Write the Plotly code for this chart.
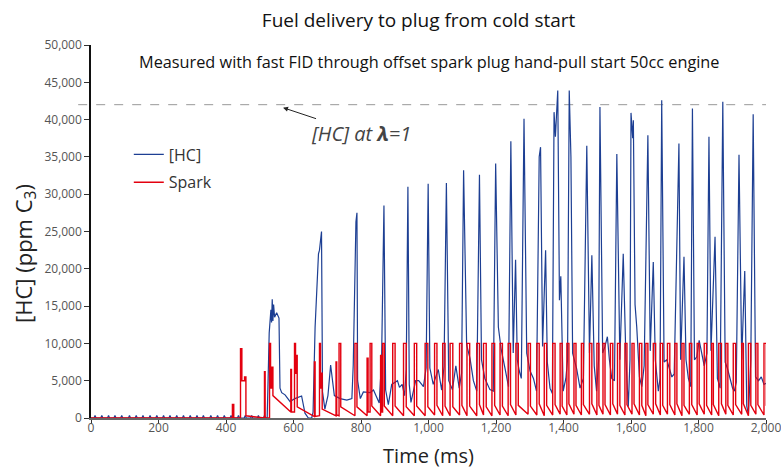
import plotly.graph_objects as go

# [HC] trace (time in ms, ppm C3)
hc_time = [0, 522, 528, 533, 535, 537, 539, 541, 544, 550, 557, 560, 565, 575, 590, 604, 624, 634, 644, 654,
           658, 664, 674, 677, 683, 686, 693, 702, 710, 715, 721, 738, 758, 773, 777, 785, 788, 790, 798, 807,
           827, 837, 846, 854, 861, 868, 873, 881, 891, 908, 914, 922, 929, 934, 939, 943, 948, 962, 971, 985,
           993, 999, 1004, 1014, 1029, 1039, 1046, 1053, 1060, 1071, 1081, 1091, 1098, 1104, 1113, 1123, 1133,
           1143, 1151, 1157, 1167, 1182, 1192, 1199, 1207, 1215, 1227, 1237, 1244, 1251, 1258, 1263, 1269, 1275,
           1283, 1291, 1301, 1311, 1320, 1328, 1332, 1338, 1347, 1352, 1360, 1367, 1372, 1376, 1383, 1388, 1392,
           1399, 1407, 1412, 1417, 1422, 1427, 1439, 1449, 1459, 1469, 1477, 1484, 1491, 1498, 1504, 1508, 1516,
           1523, 1530, 1536, 1543, 1551, 1558, 1567, 1577, 1585, 1592, 1597, 1600, 1605, 1607, 1612, 1617, 1625,
           1632, 1639, 1650, 1657, 1666, 1672, 1681, 1686, 1691, 1698, 1706, 1714, 1721, 1728, 1742, 1747, 1757,
           1763, 1770, 1777, 1782, 1788, 1795, 1802, 1810, 1817, 1825, 1831, 1837, 1849, 1856, 1864, 1872, 1879,
           1886, 1894, 1901, 1906, 1912, 1920, 1928, 1937, 1943, 1948, 1955, 1962, 1969, 1978, 1986, 1994, 2002,
           2010]
hc_ppm = [0, 0, 11400, 14500, 12800, 15900, 13000, 15200, 13500, 14100, 13400, 4000, 3400, 3100, 2200, 2600,
          2950, 650, 0, 0, 800, 12200, 22000, 22500, 25000, 3500, 1200, 3000, 7100, 5000, 3000, 2600, 2400, 2600,
          7100, 26300, 27500, 5000, 2600, 3500, 3400, 3750, 2700, 2000, 7800, 28500, 3750, 1800, 4500, 5000,
          4100, 4500, 3000, 6500, 31000, 4500, 2100, 5000, 5000, 4200, 6700, 31400, 6700, 4500, 6500, 3750, 6900,
          31500, 5000, 3800, 7000, 4000, 6000, 33200, 9800, 8000, 5000, 3600, 32600, 7800, 5300, 3800, 3600,
          34100, 12200, 9300, 6600, 4200, 37100, 8700, 21200, 7800, 6300, 5300, 40100, 8700, 6300, 5300, 3600,
          35000, 36300, 9600, 22500, 7500, 4000, 3300, 41000, 37700, 43900, 15800, 19000, 3600, 5300, 7800,
          43900, 35000, 8700, 6600, 4000, 5300, 36500, 8700, 21800, 7000, 3600, 7800, 41700, 8700, 9600, 10900,
          7800, 5300, 5000, 35400, 7800, 22000, 7800, 1500, 7800, 40900, 37500, 39900, 15200, 12200, 5500, 4200,
          7000, 37900, 9000, 20900, 7800, 3600, 5300, 42600, 7500, 7800, 6600, 5500, 5900, 36800, 7800, 21600,
          7800, 5300, 4200, 41500, 7800, 8200, 10400, 8700, 7000, 8700, 37700, 9000, 24300, 5300, 4000, 42400,
          7500, 6600, 5300, 4000, 3600, 4800, 35300, 7800, 19700, 1600, 500, 7800, 40700, 5500, 5000, 5500, 4500,
          4700, 24000]

# small blips on the [HC] baseline before the engine fires (ms) and their height
hc_blip_time = [12, 32, 52, 71, 91, 114, 134, 154, 175, 195, 215, 234, 254, 274, 294, 314, 333, 355, 375, 395,
                415, 437, 457, 476, 496, 514]
hc_blip_ppm = 350

# Spark pulses: rising edge, falling edge, top level, level before and after each pulse
spark_on = [419, 443, 455, 514, 529, 536, 592, 603, 608, 662, 677, 683, 726, 735, 782, 818, 827, 858, 864, 894,
            926, 958, 990, 1018, 1042, 1064, 1092, 1114, 1143, 1163, 1188, 1212, 1236, 1259, 1295, 1321, 1343,
            1368, 1390, 1410, 1431, 1453, 1477, 1499, 1517, 1539, 1560, 1582, 1603, 1625, 1644, 1666, 1687, 1708,
            1730, 1751, 1773, 1796, 1817, 1839, 1860, 1881, 1903, 1928, 1948, 1970, 1994]
spark_off = [423, 447, 459, 516, 532, 539, 594, 606, 611, 664, 680, 685, 728, 740, 788, 821, 832, 861, 869, 901,
             934, 965, 998, 1025, 1049, 1072, 1099, 1122, 1151, 1171, 1196, 1219, 1243, 1266, 1302, 1328, 1350,
             1375, 1396, 1416, 1437, 1459, 1484, 1505, 1523, 1546, 1567, 1588, 1609, 1632, 1650, 1673, 1694, 1715,
             1736, 1757, 1780, 1802, 1824, 1844, 1868, 1887, 1910, 1933, 1955, 1976, 2001]
spark_peak = [1800, 9300, 5500, 6200, 10000, 6800, 6500, 10000, 8400, 7500, 10000, 6000, 7500, 10000, 10000,
              8000, 10000, 8400, 10000, 10000, 10000, 10000, 10000, 10000, 10000, 10000, 10000, 10000, 10000,
              10000, 10000, 10000, 10000, 10000, 10000, 10000, 10000, 10000, 10000, 10000, 10000, 10000, 10000,
              10000, 10000, 10000, 10000, 10000, 10000, 10000, 10000, 10000, 10000, 10000, 10000, 10000, 10000,
              10000, 10000, 10000, 10000, 10000, 10000, 10000, 10000, 10000, 10000]
spark_before = [0, 0, 5000, 0, 0, 4000, 800, 800, 6000, 200, 300, 4000, 300, 300, 300, 300, 800, 300, 800, 300,
                300, 300, 300, 400, 300, 300, 400, 300, 300, 400, 300, 400, 300, 400, 500, 400, 300, 400, 500,
                400, 500, 400, 500, 400, 500, 400, 500, 400, 500, 400, 300, 500, 400, 500, 400, 300, 500, 400,
                500, 400, 300, 500, 400, 500, 300, 500, 400]
spark_after = [0, 5000, 300, 0, 4000, 3000, 800, 6000, 1500, 200, 4000, 1200, 400, 1500, 1500, 800, 1600, 800,
               1600, 1600, 1500, 1600, 1500, 1700, 1600, 1500, 1700, 1600, 1800, 1500, 1700, 1600, 1800, 1700,
               1600, 1900, 1700, 1800, 1600, 1900, 1700, 1800, 1900, 1700, 1800, 1900, 1700, 1800, 1900, 1700,
               1800, 1900, 1700, 1800, 1900, 1700, 1800, 1900, 1700, 1800, 1900, 1700, 1800, 1900, 1700, 1800,
               1700]

lambda_one = 42000

y_ticks = list(range(0, 50001, 5000))
x_ticks = list(range(0, 2001, 200))

FONT = "'Open Sans', Lato, sans-serif"
BLUE = "#1d3f93"
RED = "#e3000f"

# baseline blips go in front of the measured trace
hc_t, hc_v = [], []
for b in hc_blip_time:
    hc_t += [b - 3, b, b + 3]
    hc_v += [0, hc_blip_ppm, 0]
hc_t += hc_time[1:]
hc_v += hc_ppm[1:]
hc_t.insert(0, 0)
hc_v.insert(0, 0)

# build the step-shaped spark trace from the pulse table
spark_t, spark_v = [0], [0]
for on, off, pk, b, a in zip(spark_on, spark_off, spark_peak, spark_before, spark_after):
    spark_t += [on, on, off, off]
    spark_v += [b, pk, pk, a]
spark_t.append(2010)
spark_v.append(800)

fig = go.Figure()
fig.add_trace(go.Scatter(x=hc_t, y=hc_v, mode="lines", name="[HC]",
                         line=dict(color=BLUE, width=1.2), legendgroup="a"))
fig.add_trace(go.Scatter(x=spark_t, y=spark_v, mode="lines", name="Spark",
                         line=dict(color=RED, width=1.4), legendgroup="b"))

# lambda = 1 reference line, starts a little left of the y axis
fig.add_shape(type="line", xref="paper", yref="y", x0=-0.019, x1=1, y0=lambda_one, y1=lambda_one,
              line=dict(color="#999999", width=1, dash="dash"), layer="below")

fig.add_annotation(x=569, y=41600, xref="x", yref="y", ax=78, ay=26,
                   text="[HC] at <b>λ</b>=1", showarrow=True, arrowhead=2, arrowsize=1,
                   arrowwidth=1, arrowcolor="#222222",
                   font=dict(family=FONT, size=20, color="#444444", style="italic"))

fig.add_annotation(x=0.5, y=0.954, xref="paper", yref="paper", showarrow=False,
                   xanchor="center", yanchor="middle",
                   text="Measured with fast FID through offset spark plug hand-pull start 50cc engine",
                   font=dict(family=FONT, size=16.3, color="#111111"))

# y axis title sits a little below the middle of the axis
fig.add_annotation(x=-0.098, y=0.442, xref="paper", yref="paper", showarrow=False,
                   xanchor="center", yanchor="middle", textangle=-90,
                   text="[HC] (ppm C<sub>3</sub>)", font=dict(family=FONT, size=22, color="#222222"))

fig.update_layout(
    width=781, height=470,
    margin=dict(l=91, r=15, t=45, b=52),
    paper_bgcolor="white", plot_bgcolor="white",
    font=dict(family=FONT, color="#333333"),
    title=dict(text="Fuel delivery to plug from cold start", x=0.536, xanchor="center",
               y=0.957, yanchor="middle", font=dict(family=FONT, size=19, color="#111111")),
    legend=dict(x=0.056, y=0.752, xanchor="left", yanchor="top", bgcolor="rgba(0,0,0,0)",
                font=dict(family=FONT, size=16, color="#333333"), tracegroupgap=4),
    showlegend=True,
)
fig.update_xaxes(range=[0, 2000], tickvals=x_ticks, tickformat=",", showgrid=False, zeroline=False,
                 showline=True, linecolor="#666666", linewidth=1.5, ticks="outside", ticklen=4,
                 tickcolor="#333333", tickfont=dict(size=12, color="#555555"), automargin=False,
                 ticklabeloverflow="allow", ticklabelstandoff=-6,
                 title=dict(text="Time (ms)", font=dict(size=20, color="#222222"), standoff=14))
fig.update_yaxes(range=[0, 50000], tickvals=y_ticks, tickformat=",", showgrid=False, zeroline=False,
                 showline=True, linecolor="#111111", linewidth=1.5, ticks="outside", ticklen=5,
                 tickcolor="#333333", tickfont=dict(size=12, color="#555555"), automargin=False)

# the page's default body margin would push the figure 8px off the corner
fig.write_html("out.html", config={"displayModeBar": False},
               post_script="document.body.style.margin='0';")
